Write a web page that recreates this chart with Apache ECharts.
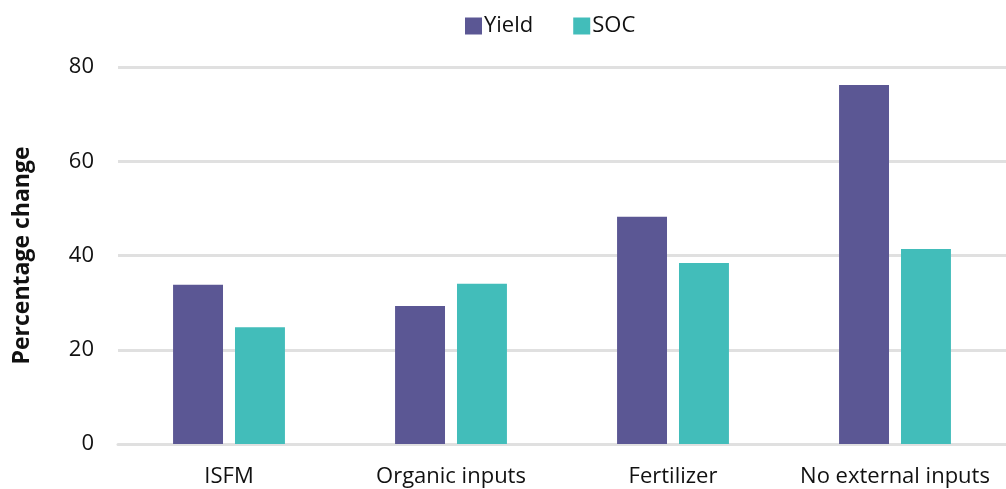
<!DOCTYPE html>
<html>
<head>
<meta charset="utf-8">
<script src="https://cdn.jsdelivr.net/npm/echarts@6/dist/echarts.min.js"></script>
<style>
  html, body { margin: 0; padding: 0; background: #fff; }
  #chart { width: 1006px; height: 489px; }
</style>
</head>
<body>
<div id="chart"></div>
<script>
const categories = ['ISFM', 'Organic inputs', 'Fertilizer', 'No external inputs']
const yieldValues = [33.8, 29.3, 48.2, 76.2]
const socValues = [24.8, 34.0, 38.4, 41.4]

const font = 'Open Sans, sans-serif'

const chart = echarts.init(document.getElementById('chart'))
chart.setOption({
  animation: false,
  textStyle: { fontFamily: font },
  legend: {
    top: 10,
    left: 460,
    itemWidth: 17,
    itemHeight: 17,
    itemGap: 40,
    textStyle: { fontSize: 22, color: '#111', fontFamily: font, padding: [0, 0, 0, -3] },
    data: [
      { name: 'Yield', icon: 'rect' },
      { name: 'SOC', icon: 'rect' },
    ],
  },
  grid: { left: 118, right: 0, top: 67, bottom: 45 },
  xAxis: {
    type: 'category',
    data: categories,
    axisLine: { lineStyle: { color: '#e0e0e0', width: 3 } },
    axisTick: { show: false },
    axisLabel: { interval: 0, fontSize: 22, color: '#111', margin: 22, fontFamily: font, hideOverlap: false },
  },
  yAxis: {
    type: 'value',
    min: 0,
    max: 80,
    interval: 20,
    name: 'Percentage change',
    nameLocation: 'middle',
    nameGap: 84,
    nameTextStyle: { fontSize: 23, fontWeight: 'bold', color: '#111', fontFamily: font },
    axisLabel: { fontSize: 22, color: '#111', margin: 24, fontFamily: font },
    splitLine: { lineStyle: { color: '#e0e0e0', width: 3 } },
  },
  series: [
    {
      name: 'Yield',
      type: 'bar',
      data: yieldValues,
      barWidth: '22.5%',
      barGap: '24%',
      itemStyle: { color: '#5b5794' },
    },
    {
      name: 'SOC',
      type: 'bar',
      data: socValues,
      barWidth: '22.5%',
      itemStyle: { color: '#42bdba' },
    },
  ],
})
</script>
</body>
</html>
